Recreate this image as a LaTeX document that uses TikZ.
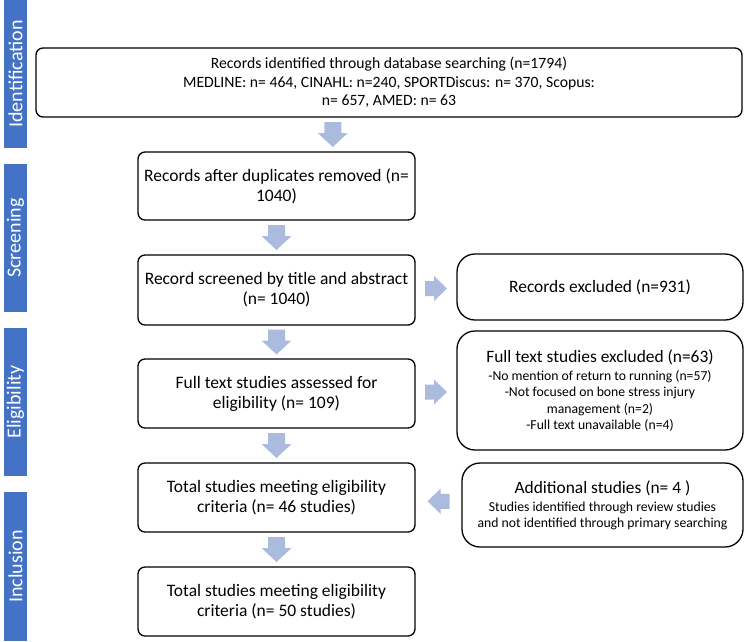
\documentclass[tikz,border=0pt]{standalone}
\usepackage{fontspec}
\setmainfont{Carlito}
\usetikzlibrary{calc}
\definecolor{barblue}{HTML}{4472C4}
\definecolor{arrblue}{HTML}{AABBDE}
\newcommand{\smtxt}{\fontsize{13.7}{16.2}\selectfont}
\newcommand{\sdtitle}{\fontsize{17.4}{18}\selectfont}
\newcommand{\pdarrow}[2]{\fill[arrblue] ($(#1.south)!0.5!(#2.north)$) ++(-8.5,-12.5) -- ++(17,0) -- ++(0,11) -- ++(6.5,0) -- ++(-15,14) -- ++(-15,-14) -- ++(6.5,0) -- cycle;}
\newcommand{\prarrow}[2]{\fill[arrblue] ($(#1.east)!0.5!(#2.west)$) ++(-11,-7.5) -- ++(9,0) -- ++(0,-5) -- ++(13,12.5) -- ++(-13,12.5) -- ++(0,-5) -- ++(-9,0) -- cycle;}
\newcommand{\plarrow}[2]{\fill[arrblue] ($(#1.west)!0.5!(#2.east)$) ++(11,-7.5) -- ++(-9,0) -- ++(0,-5) -- ++(-13,12.5) -- ++(13,12.5) -- ++(0,-5) -- ++(9,0) -- cycle;}
\begin{document}
\begin{tikzpicture}[x=1pt,y=-1pt,
  bigtxt/.style={font=\fontsize{17.5}{20}\selectfont},
  mainbox/.style={draw=black, line width=1.3pt, rounded corners=7pt, align=center, inner sep=0pt, bigtxt},
  sidebox/.style={draw=black, line width=1.3pt, rounded corners=18pt, align=center, inner sep=0pt, font=\smtxt},
  stagebar/.style={fill=barblue, inner sep=0pt, minimum width=23pt},
  stagetxt/.style={text=white, rotate=90, font=\fontsize{20}{22}\selectfont}]
\useasboundingbox (0,0) rectangle (749,641);
% stage bars
\node[stagebar, minimum height=148pt] (sId) at (15.5,74) {};
\node[stagetxt] (tId) at (sId.center) {Identification};
\node[stagebar, minimum height=148pt] (sSc) at (15.5,238) {};
\node[stagetxt] (tSc) at (sSc.center) {Screening};
\node[stagebar, minimum height=148pt] (sEl) at (15.5,402) {};
\node[stagetxt] (tEl) at (sEl.center) {Eligibility};
\node[stagebar, minimum height=149pt] (sIn) at (15.5,566.5) {};
\node[stagetxt] (tIn) at (sIn.center) {Inclusion};
% main boxes
\node[mainbox, minimum width=706pt, minimum height=69pt, font=\fontsize{15.7}{18.7}\selectfont] (b1) at (389,82.5)
  {Records identified through database searching (n=1794)\\MEDLINE: n= 464, CINAHL: n=240, SPORTDiscus: n= 370, Scopus:\\n= 657, AMED: n= 63};
\node[mainbox, minimum width=277pt, minimum height=68pt] (b2) at (276.5,186)
  {Records after duplicates removed (n=\\1040)};
\node[mainbox, minimum width=277pt, minimum height=70pt] (b3) at (276.5,290)
  {Record screened by title and abstract\\(n= 1040)};
\node[mainbox, minimum width=277pt, minimum height=69pt] (b4) at (276.5,393.5)
  {Full text studies assessed for\\eligibility (n= 109)};
\node[mainbox, minimum width=277pt, minimum height=69pt] (b5) at (276.5,497.5)
  {Total studies meeting eligibility\\criteria (n= 46 studies)};
\node[mainbox, minimum width=277pt, minimum height=69pt] (b6) at (276.5,601.5)
  {Total studies meeting eligibility\\criteria (n= 50 studies)};
% side boxes
\node[sidebox, minimum width=286pt, minimum height=66pt, font=\sdtitle] (r1) at (600,287)
  {Records excluded (n=931)};
\node[sidebox, minimum width=286pt, minimum height=119pt] (r2) at (600,390.5)
  {{\sdtitle Full text studies excluded (n=63)}\\[1.8pt]
   -No mention of return to running (n=57)\\
   -Not focused on bone stress injury\\
   management (n=2)\\
   -Full text unavailable (n=4)};
\node[sidebox, minimum width=281pt, minimum height=84pt] (r3) at (602.5,505)
  {{\sdtitle Additional studies (n= 4 )}\\[1.8pt]
   Studies identified through review studies\\
   and not identified through primary searching};
% arrows
\pdarrow{b1}{b2}
\pdarrow{b2}{b3}
\pdarrow{b3}{b4}
\pdarrow{b4}{b5}
\pdarrow{b5}{b6}
\prarrow{b3}{r1}
\prarrow{b4}{r2}
\plarrow{r3}{b5}
\end{tikzpicture}
\end{document}
